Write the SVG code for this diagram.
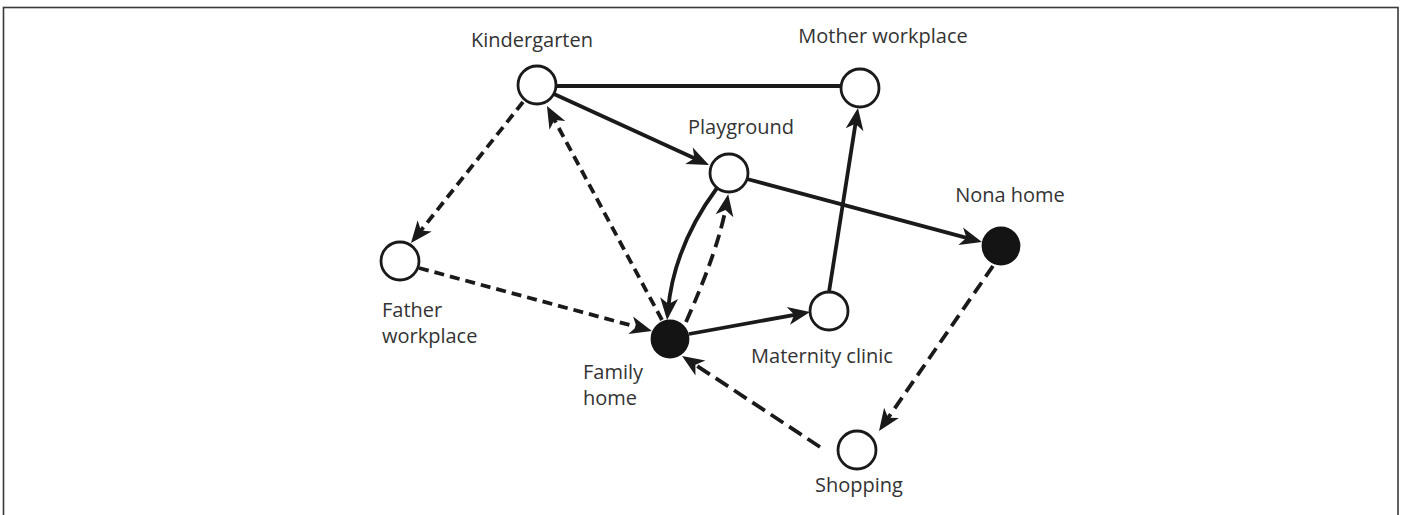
<svg xmlns="http://www.w3.org/2000/svg" width="1405" height="515" viewBox="0 0 1405 515">
<style>
.frame{fill:none;stroke:#3a3a3a;stroke-width:1.6}
.node{fill:#fff;stroke:#1a1a1a;stroke-width:2.8}
.fnode{fill:#141414;stroke:#141414;stroke-width:2.8}
.e{fill:none;stroke:#1a1a1a;stroke-width:3.8}
.d1{stroke-dasharray:10 6}
.d2{stroke-dasharray:13 7}
.d3{stroke-dasharray:15 7}
.lbl{font-family:"Open Sans","Liberation Sans",sans-serif;font-size:20px;fill:#333}
</style>
<defs>
<marker id="arr" viewBox="-14 -11 26 22" refX="0" refY="0" markerWidth="26" markerHeight="22" markerUnits="userSpaceOnUse" orient="auto">
<path d="M10,0 L-12,-9 L-6,0 L-12,9 Z" fill="#1a1a1a" stroke="none"/>
</marker>
</defs>
<rect class="frame" x="3.5" y="7.5" width="1394.5" height="520"/>
<g id="connectors">
<path class="e" d="M556,86 L841,86"/>
<path class="e" d="M554,94 L699.9,160.8" marker-end="url(#arr)"/>
<path class="e d1" d="M523,102 L417.2,235.2" marker-end="url(#arr)"/>
<path class="e d1" d="M662,320 L551.7,114.8" marker-end="url(#arr)"/>
<path class="e d1" d="M419,268 L642.3,328.4" marker-end="url(#arr)"/>
<path class="e" d="M717,188 Q674,246 668,310" marker-end="url(#arr)"/>
<path class="e d2" d="M686,322 Q719,248 726.5,204" marker-end="url(#arr)"/>
<path class="e" d="M689,334 L800.2,313.8" marker-end="url(#arr)"/>
<path class="e" d="M829,292 L856.4,117.9" marker-end="url(#arr)"/>
<path class="e" d="M747,179 L972.3,239.4" marker-end="url(#arr)"/>
<path class="e d2" d="M993,266 L884.7,422.8" marker-end="url(#arr)"/>
<path class="e d3" d="M820,447 L690.4,361.5" marker-end="url(#arr)"/>
</g>
<g id="kindergarten">
<circle class="node" cx="537" cy="85" r="19"/>
<text class="lbl" x="532" y="47" text-anchor="middle">Kindergarten</text>
</g>
<g id="mother-workplace">
<circle class="node" cx="860" cy="88" r="19"/>
<text class="lbl" x="883" y="43" text-anchor="middle">Mother workplace</text>
</g>
<g id="playground">
<circle class="node" cx="729" cy="173" r="19"/>
<text class="lbl" x="741" y="134" text-anchor="middle">Playground</text>
</g>
<g id="nona-home">
<circle class="fnode" cx="1001" cy="246" r="18"/>
<text class="lbl" x="1010" y="202" text-anchor="middle">Nona home</text>
</g>
<g id="father-workplace">
<circle class="node" cx="400" cy="261" r="19"/>
<text class="lbl" x="382" y="317">Father</text>
<text class="lbl" x="382" y="343">workplace</text>
</g>
<g id="family-home">
<circle class="fnode" cx="670" cy="339" r="18"/>
<text class="lbl" x="583" y="379">Family</text>
<text class="lbl" x="583" y="405">home</text>
</g>
<g id="maternity-clinic">
<circle class="node" cx="829" cy="311" r="19"/>
<text class="lbl" x="822" y="363" text-anchor="middle">Maternity clinic</text>
</g>
<g id="shopping">
<circle class="node" cx="857" cy="450" r="19"/>
<text class="lbl" x="859" y="492" text-anchor="middle">Shopping</text>
</g>
</svg>
